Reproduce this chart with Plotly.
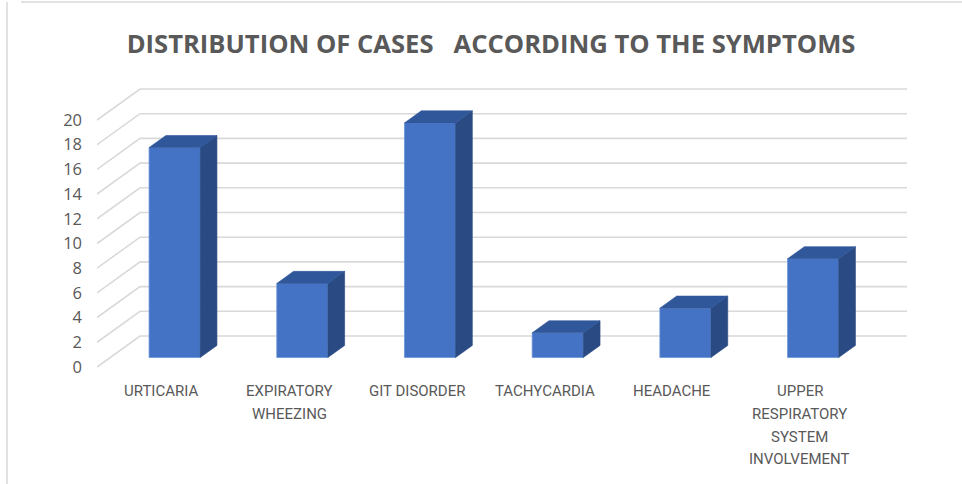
import plotly.graph_objects as go

# Symptom categories and number of cases
categories = ["URTICARIA", "EXPIRATORY<br>WHEEZING", "GIT DISORDER", "TACHYCARDIA",
              "HEADACHE", "UPPER<br>RESPIRATORY<br>SYSTEM<br>INVOLVEMENT"]
cases = [17, 6, 19, 2, 4, 8]
y_ticks = [0, 2, 4, 6, 8, 10, 12, 14, 16, 18, 20]

# Oblique projection for the pseudo-3D look: a point at depth d (0 = front
# edge of the floor, 1 = back wall) is shifted by (DX*d, DY*d) in data units.
DX = 0.337   # horizontal shift for full depth (category units)
DY = 2.51    # vertical shift for full depth (value units)
BAR_W = 0.40
D_FRONT, D_BACK = 0.305, 0.695
X_MIN, X_MAX = -0.505, 5.838
Y_MIN, Y_MAX = -0.405, 23.644

FRONT = "#4472C4"
TOP = "#30579A"
SIDE = "#294A82"
EDGE = "#6B95DB"
GRID = "#D9D9D9"
TXT = "#595959"


def proj(x, v, d):
    return x + DX * d, v + DY * d


fig = go.Figure()

# Back wall gridlines and the floor-side diagonals
for v in y_ticks:
    x0, y0 = proj(X_MIN, v, 0)
    x1, y1 = proj(X_MIN, v, 1)
    fig.add_trace(go.Scatter(x=[x0, x1, X_MAX], y=[y0, y1, y1], mode="lines",
                             line=dict(color=GRID, width=1.6),
                             hoverinfo="skip", showlegend=False))

# Columns: front, side and top faces
for i, v in enumerate(cases):
    xl, xr = i - BAR_W / 2, i + BAR_W / 2
    # front face
    pts = [proj(xl, 0, D_FRONT), proj(xr, 0, D_FRONT), proj(xr, v, D_FRONT), proj(xl, v, D_FRONT)]
    fig.add_trace(go.Scatter(x=[p[0] for p in pts] + [pts[0][0]], y=[p[1] for p in pts] + [pts[0][1]],
                             mode="lines", fill="toself", fillcolor=FRONT,
                             line=dict(color=EDGE, width=0.8), hoverinfo="skip", showlegend=False))
    # right side face
    pts = [proj(xr, 0, D_FRONT), proj(xr, 0, D_BACK), proj(xr, v, D_BACK), proj(xr, v, D_FRONT)]
    fig.add_trace(go.Scatter(x=[p[0] for p in pts] + [pts[0][0]], y=[p[1] for p in pts] + [pts[0][1]],
                             mode="lines", fill="toself", fillcolor=SIDE,
                             line=dict(color=SIDE, width=0.6), hoverinfo="skip", showlegend=False))
    # top face
    pts = [proj(xl, v, D_FRONT), proj(xr, v, D_FRONT), proj(xr, v, D_BACK), proj(xl, v, D_BACK)]
    fig.add_trace(go.Scatter(x=[p[0] for p in pts] + [pts[0][0]], y=[p[1] for p in pts] + [pts[0][1]],
                             mode="lines", fill="toself", fillcolor=TOP,
                             line=dict(color=TOP, width=0.6), hoverinfo="skip", showlegend=False))

# Category labels below the floor, one annotation per text line for wider line spacing
annotations = []
for i, label in enumerate(categories):
    for k, line in enumerate(label.split("<br>")):
        annotations.append(dict(
            x=i, xref="x", y=0, yref="paper", text=line, showarrow=False,
            xanchor="center", yanchor="middle", yshift=-19 - 22.8 * k,
            font=dict(family="Roboto, sans-serif", size=15, color=TXT)))

fig.update_layout(
    width=962, height=484,
    margin=dict(l=97, r=55, t=75, b=112),
    paper_bgcolor="white", plot_bgcolor="white",
    title=dict(text="<b>DISTRIBUTION OF CASES   ACCORDING TO THE SYMPTOMS</b>",
               x=0.5104, xanchor="center", y=0.91, yanchor="middle",
               font=dict(family="Open Sans, sans-serif", size=25.6, color=TXT)),
    xaxis=dict(range=[X_MIN, X_MAX], showgrid=False, zeroline=False, showline=False,
               showticklabels=False, ticks=""),
    yaxis=dict(range=[Y_MIN, Y_MAX], showgrid=False, zeroline=False, showline=False,
               tickmode="array", tickvals=y_ticks, ticktext=[str(t) for t in y_ticks],
               ticks="", ticklabelstandoff=14,
               tickfont=dict(family="Open Sans, sans-serif", size=16.5, color=TXT)),
    annotations=annotations,
    shapes=[
        dict(type="line", xref="paper", yref="paper", x0=-0.0938, x1=1.1, y0=1.2455, y1=1.2455,
             line=dict(color="#D9D9D9", width=1.5)),
        dict(type="line", xref="paper", yref="paper", x0=-0.1111, x1=-0.1111, y0=-0.5, y1=1.2455,
             line=dict(color="#D9D9D9", width=1.5)),
    ],
)

fig.write_html("out.html")
